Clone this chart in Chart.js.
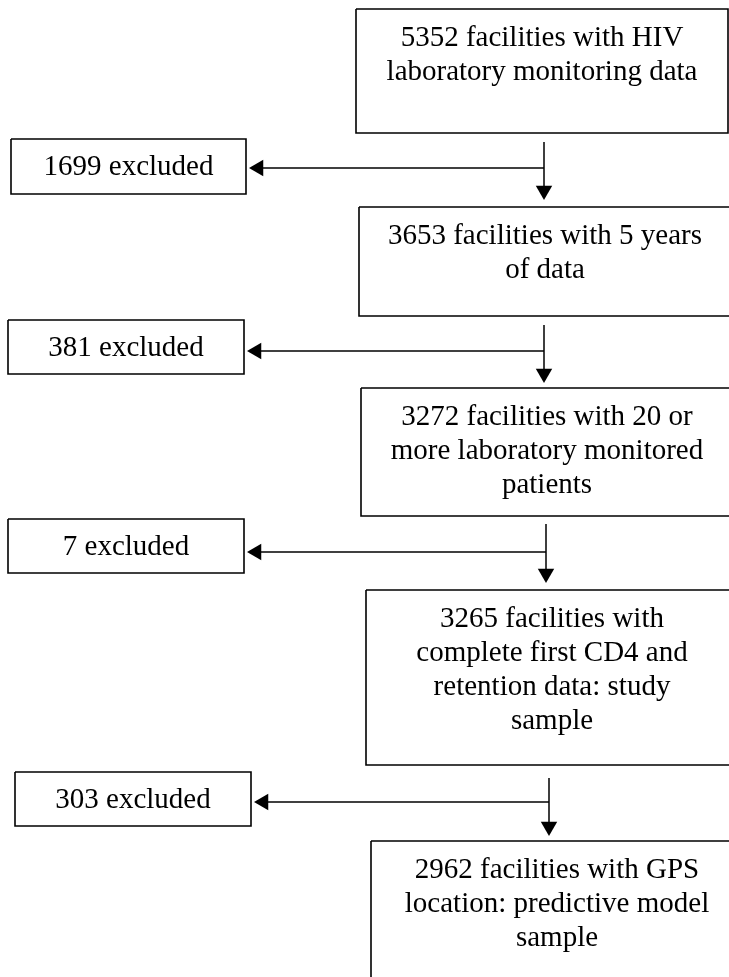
<!DOCTYPE html>
<html>
<head>
<meta charset="utf-8">
<script src="https://cdn.jsdelivr.net/npm/chart.js@4/dist/chart.umd.min.js"></script>
<style>
  html, body { margin: 0; padding: 0; background: #fff; }
  canvas { display: block; }
</style>
</head>
<body>
<canvas id="flow" width="729" height="977"></canvas>
<script>
// Cifras del diagrama de flujo
const mainCounts = [5352, 3653, 3272, 3265, 2962];
const mainLines = [
    ['facilities with HIV', 'laboratory monitoring data'],
    ['facilities with 5 years', 'of data'],
    ['facilities with 20 or', 'more laboratory monitored', 'patients'],
    ['facilities with', 'complete first CD4 and', 'retention data: study', 'sample'],
    ['facilities with GPS', 'location: predictive model', 'sample']
];
const excludedCounts = [1699, 381, 7, 303];
const excludedLabel = 'excluded';

// Disposicion (unidades de la escala, y hacia abajo)
const mainLeft = [356, 359, 361, 366, 371];
const mainTop = [9, 207, 388, 590, 841];
const mainBottom = [133, 316, 516, 765, 985];
const mainWidth = 372;
const exLeft = [11, 8, 8, 15];
const exRight = [246, 244, 244, 251];
const exTop = [139, 320, 519, 772];
const exBottom = [194, 374, 573, 826];
const arrowX = [544, 544, 546, 549];
const arrowStart = [142, 325, 524, 778];
const arrowTip = [200, 383, 583, 836];
const arrowBranch = [168, 351, 552, 802];

const FONT = '29px "Liberation Serif", "Times New Roman", serif';
const LINE_H = 34;
const HEAD = 9.5;

function rect(x0, y0, x1, y1) {
    return [{x: x0, y: y0}, {x: x1, y: y0}, {x: x1, y: y1}, {x: x0, y: y1}, {x: x0, y: y0}];
}

function lineSet(data, width) {
    return {
        data: data,
        showLine: true,
        borderColor: '#000',
        borderWidth: width,
        pointRadius: 0,
        tension: 0,
        borderJoinStyle: 'miter',
        clip: false
    };
}

const datasets = [];
mainCounts.forEach((n, i) => {
    datasets.push(lineSet(rect(mainLeft[i], mainTop[i], mainLeft[i] + mainWidth, mainBottom[i]), 1.6));
});
excludedCounts.forEach((n, i) => {
    datasets.push(lineSet(rect(exLeft[i], exTop[i], exRight[i], exBottom[i]), 1.6));
    // flecha vertical y rama hacia la izquierda
    datasets.push(lineSet([{x: arrowX[i], y: arrowStart[i]}, {x: arrowX[i], y: arrowTip[i] - 4}], 1.5));
    datasets.push(lineSet([{x: arrowX[i], y: arrowBranch[i]}, {x: exRight[i] + 8, y: arrowBranch[i]}], 1.5));
});

// Puntas de flecha
const heads = [];
const rotations = [];
excludedCounts.forEach((n, i) => {
    heads.push({x: arrowX[i], y: arrowTip[i] - HEAD});
    rotations.push(180);
    heads.push({x: exRight[i] + 3 + HEAD, y: arrowBranch[i]});
    rotations.push(270);
});
datasets.push({
    data: heads,
    pointStyle: 'triangle',
    pointRotation: rotations,
    pointRadius: HEAD,
    pointBackgroundColor: '#000',
    pointBorderColor: '#000',
    pointBorderWidth: 0,
    showLine: false,
    clip: false
});

const textPlugin = {
    id: 'boxText',
    afterDatasetsDraw(chart) {
        const ctx = chart.ctx;
        const xs = chart.scales.x;
        const ys = chart.scales.y;
        ctx.save();
        ctx.fillStyle = '#000';
        ctx.font = FONT;
        ctx.textAlign = 'center';
        ctx.textBaseline = 'middle';

        mainCounts.forEach((n, i) => {
            const cx = xs.getPixelForValue(mainLeft[i] + mainWidth / 2);
            const lines = mainLines[i].slice();
            lines[0] = n + ' ' + lines[0];
            lines.forEach((t, j) => {
                const y = ys.getPixelForValue(mainTop[i] + 29 + j * LINE_H);
                ctx.fillText(t, cx, y);
            });
        });

        excludedCounts.forEach((n, i) => {
            const cx = xs.getPixelForValue((exLeft[i] + exRight[i]) / 2);
            const cy = ys.getPixelForValue((exTop[i] + exBottom[i]) / 2 + 1);
            ctx.fillText(n + ' ' + excludedLabel, cx, cy);
        });
        ctx.restore();
    }
};

new Chart(document.getElementById('flow').getContext('2d'), {
    type: 'scatter',
    data: { datasets: datasets },
    options: {
        responsive: false,
        animation: false,
        events: [],
        layout: { padding: 0, autoPadding: false },
        scales: {
            x: { type: 'linear', min: 0, max: 729, display: false },
            y: { type: 'linear', min: 0, max: 977, reverse: true, display: false }
        },
        plugins: {
            legend: { display: false },
            tooltip: { enabled: false }
        }
    },
    plugins: [textPlugin]
});
</script>
</body>
</html>
